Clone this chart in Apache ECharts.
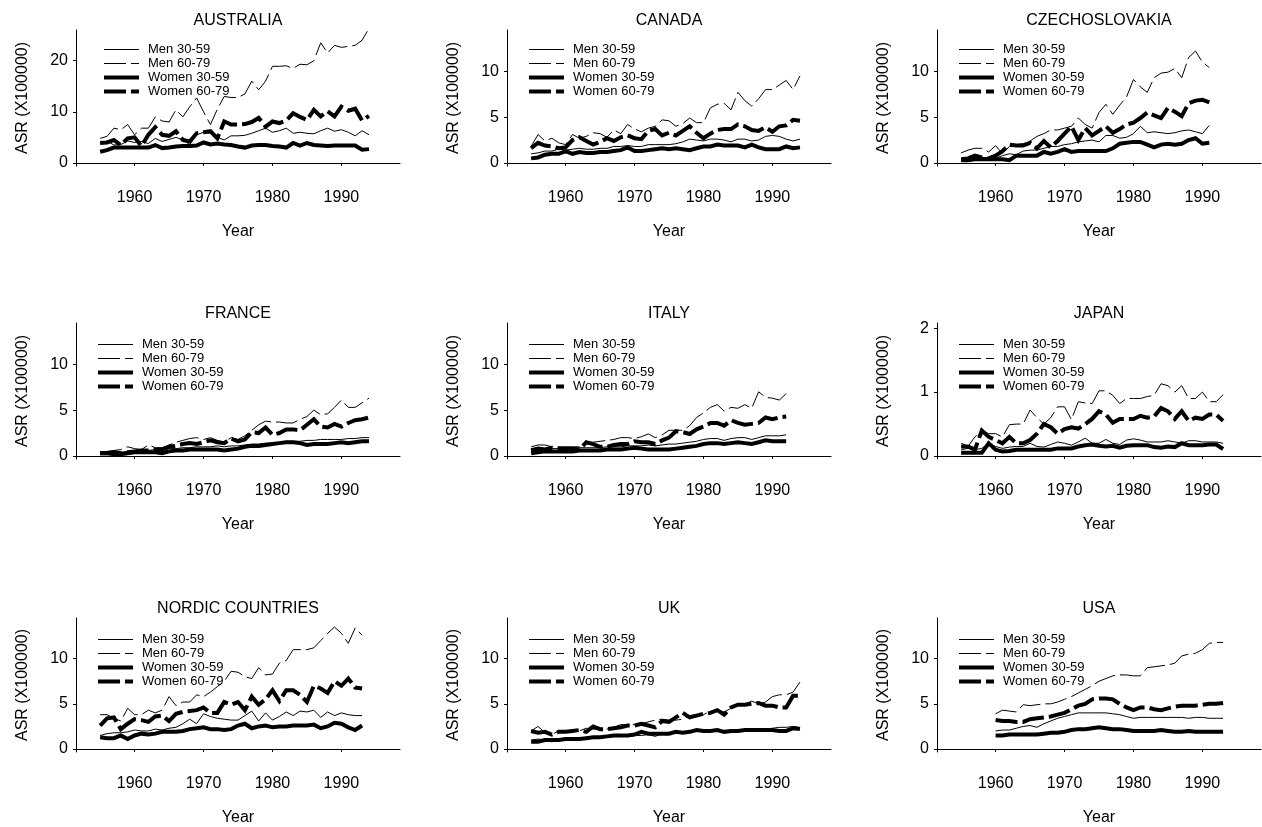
<!DOCTYPE html>
<html>
<head>
<meta charset="utf-8">
<script src="https://cdn.jsdelivr.net/npm/echarts@6/dist/echarts.min.js"></script>
<style>
  html, body { margin: 0; padding: 0; background: #fff; }
  #chart { width: 1262px; height: 827px; }
</style>
</head>
<body>
<div id="chart"></div>
<script>
// ---------- data ----------
const seriesNames = ['Men 30-59', 'Men 60-79', 'Women 30-59', 'Women 60-79'];
const countries = ['AUSTRALIA', 'CANADA', 'CZECHOSLOVAKIA', 'FRANCE', 'ITALY', 'JAPAN', 'NORDIC COUNTRIES', 'UK', 'USA'];
const startYears = [1955, 1955, 1955, 1955, 1955, 1955, 1955, 1955, 1960];
const yearTicks = [1960, 1970, 1980, 1990];
const yTicksAustralia = [0, 10, 20];
const yTicksStandard = [0, 5, 10];
const yTicksJapan = [0, 1, 2];

const australiaMen3059 = [3.8,4.3,3.5,3.6,4.3, 4.0,4.2,3.8,4.8,4.2, 4.6,5.0,4.5,3.6,5.5, 6.0,5.8,5.0,4.5,5.3, 5.3,5.4,5.8,6.3,6.8, 6.0,6.3,6.8,5.8,6.0, 5.8,5.7,6.3,6.8,6.2, 6.5,6.0,5.3,6.3,5.5];
const australiaMen6079 = [4.8,5.2,6.8,6.5,7.5, 5.5,6.8,6.8,9.0,8.2, 8.0,10.4,9.0,11.0,12.7, 10.0,7.5,10.5,13.0,12.8, 12.8,13.5,16.0,14.3,16.0, 18.9,18.9,19.0,18.5,19.3, 19.2,20.0,23.5,21.5,23.0, 22.6,22.8,23.0,24.0,26.3];
const australiaWomen3059 = [2.2,2.5,3.0,3.0,3.0, 3.0,3.0,3.0,3.5,2.9, 3.0,3.2,3.3,3.3,3.4, 4.0,3.6,3.8,3.6,3.5, 3.2,3.0,3.4,3.5,3.5, 3.3,3.2,3.0,3.9,3.4, 3.9,3.5,3.4,3.3,3.4, 3.4,3.4,3.4,2.6,2.7];
const australiaWomen6079 = [3.9,4.0,4.5,3.5,4.8, 5.0,3.3,5.5,7.0,5.5, 5.3,6.2,4.5,4.2,5.8, 6.0,6.2,4.8,8.1,7.5, 7.5,7.6,8.0,8.8,7.1, 8.1,7.8,8.3,9.7,9.0, 8.4,10.4,9.1,10.1,9.1, 11.0,10.2,10.6,8.3,9.2];

const canadaMen3059 = [1.0,1.1,1.3,1.3,1.5, 1.4,1.5,1.6,1.5,1.5, 1.6,1.6,1.8,1.8,1.9, 1.8,1.8,2.0,2.0,2.0, 2.0,2.1,2.3,2.6,2.5, 2.4,2.6,2.6,2.5,2.3, 2.6,2.6,2.4,2.5,2.9, 3.0,2.9,2.6,2.4,2.6];
const canadaMen6079 = [1.8,3.1,2.4,2.7,2.2, 2.0,3.1,2.7,2.9,3.3, 3.2,2.8,3.6,3.2,4.2, 3.7,3.4,3.8,4.0,4.7, 4.6,4.0,4.3,4.9,4.4, 4.4,6.0,6.4,6.5,5.8, 7.7,6.8,6.2,7.0,8.0, 8.0,8.5,9.0,8.0,9.5];
const canadaWomen3059 = [0.5,0.6,0.9,1.0,1.0, 1.3,1.0,1.2,1.1,1.1, 1.2,1.2,1.3,1.4,1.7, 1.3,1.3,1.4,1.5,1.6, 1.5,1.6,1.5,1.4,1.6, 1.8,1.8,2.0,1.9,1.9, 1.9,1.7,2.0,1.7,1.5, 1.5,1.5,1.8,1.6,1.7];
const canadaWomen6079 = [1.6,2.2,1.9,1.8,1.6, 1.7,2.5,2.8,2.4,2.0, 2.3,2.7,2.4,2.8,3.0, 2.7,2.6,3.5,3.7,3.0, 3.3,3.0,3.5,4.0,3.3, 2.7,3.2,3.6,3.7,3.7, 4.2,4.0,3.6,3.5,3.9, 3.4,4.0,4.1,4.7,4.6];

const czechMen3059 = [0.4,0.5,0.5,0.6,0.6, 0.5,0.8,1.0,0.9,1.3, 1.4,1.4,1.6,1.8,1.8, 2.0,2.1,2.3,2.4,2.5, 2.3,3.0,3.0,2.7,2.8, 3.2,4.0,3.3,3.4,3.3, 3.2,3.3,3.5,3.6,3.4, 3.2,4.1];
const czechMen6079 = [1.1,1.4,1.6,1.6,1.2, 1.9,1.0,1.8,2.0,2.1, 2.4,2.9,3.2,3.6,3.6, 3.8,4.0,4.9,4.2,3.8, 5.5,6.4,5.3,6.3,7.2, 9.1,8.3,7.7,9.3,9.8, 9.9,10.3,9.3,11.5,12.2, 11.0,10.4];
const czechWomen3059 = [0.3,0.3,0.4,0.4,0.4, 0.4,0.4,0.3,0.8,0.8, 0.8,0.8,1.2,1.0,1.2, 1.5,1.2,1.3,1.3,1.3, 1.3,1.3,1.6,2.1,2.2, 2.3,2.3,2.0,1.7,2.0, 2.1,2.0,2.1,2.5,2.7, 2.1,2.2];
const czechWomen6079 = [0.4,0.5,0.8,0.6,0.5, 0.8,1.3,2.0,1.9,1.9, 2.2,1.6,2.4,1.7,2.4, 3.2,4.0,2.5,3.8,3.0, 3.5,4.0,3.3,3.7,4.2, 4.4,4.9,5.5,5.2,4.9, 6.0,5.6,5.1,6.5,6.8, 6.9,6.6];

const franceMen3059 = [0.3,0.3,0.4,0.4,0.5, 0.5,0.6,0.6,0.7,0.7, 0.8,0.8,0.9,0.9,1.0, 1.0,1.0,1.1,1.0,1.1, 1.1,1.2,1.3,1.3,1.4, 1.4,1.5,1.6,1.6,1.6, 1.7,1.7,1.8,1.8,1.8, 1.8,1.9,1.9,2.0,2.0];
const franceMen6079 = [0.4,0.5,0.6,0.7,1.0, 0.8,0.7,1.2,0.9,0.9, 1.2,1.5,1.7,1.9,2.0, 1.8,2.0,1.7,1.5,2.0, 1.8,2.2,2.8,3.4,3.8, 3.7,3.7,3.6,3.6,4.0, 4.3,5.0,4.5,4.6,5.3, 6.1,5.3,5.3,5.8,6.3];
const franceWomen3059 = [0.3,0.3,0.2,0.2,0.3, 0.4,0.4,0.4,0.4,0.3, 0.5,0.6,0.6,0.7,0.7, 0.7,0.7,0.7,0.6,0.7, 0.8,1.0,1.1,1.1,1.2, 1.3,1.4,1.5,1.5,1.4, 1.2,1.3,1.3,1.3,1.4, 1.5,1.4,1.5,1.6,1.6];
const franceWomen6079 = [0.3,0.3,0.4,0.3,0.4, 0.5,0.6,0.6,0.7,0.7, 1.0,1.1,1.3,1.4,1.3, 1.5,1.7,1.5,1.4,1.9, 1.6,1.8,2.6,2.5,3.1, 2.3,2.5,2.9,2.9,2.8, 3.4,4.0,3.2,3.1,3.5, 3.2,3.6,3.9,4.0,4.2];

const italyMen3059 = [0.8,0.9,0.8,0.8,0.8, 0.8,0.8,0.9,0.9,0.9, 0.9,1.0,1.0,1.0,1.1, 1.1,1.1,1.2,1.1,1.2, 1.3,1.3,1.4,1.5,1.6, 1.8,1.9,1.9,1.7,1.9, 2.0,2.0,1.8,2.0,2.2, 2.2,2.2,2.3];
const italyMen6079 = [1.0,1.2,1.2,1.0,1.0, 1.0,1.0,1.0,1.5,1.5, 1.6,1.7,1.8,2.0,2.0, 1.9,2.1,2.4,2.0,2.3, 2.8,2.8,2.8,3.3,4.2, 4.7,5.3,5.6,4.9,5.3, 5.2,5.6,5.2,7.0,6.4, 6.3,6.1,6.8];
const italyWomen3059 = [0.3,0.4,0.5,0.5,0.5, 0.5,0.5,0.6,0.6,0.6, 0.6,0.7,0.7,0.7,0.8, 0.9,0.8,0.7,0.7,0.7, 0.7,0.8,0.9,1.0,1.1, 1.3,1.4,1.4,1.3,1.4, 1.5,1.4,1.3,1.5,1.7, 1.6,1.6,1.6];
const italyWomen6079 = [0.6,0.8,0.7,0.9,0.8, 0.8,0.8,0.7,1.5,1.3, 1.0,1.0,1.2,1.3,1.3, 1.6,1.5,1.5,1.3,1.7, 2.0,2.7,2.6,2.4,2.9, 3.2,3.6,3.6,3.3,3.9, 3.6,3.4,3.5,3.6,4.2, 4.0,4.2,4.3];

const japanMen3059 = [0.10,0.12,0.10,0.12,0.20, 0.15,0.12,0.14,0.15,0.15, 0.20,0.15,0.14,0.18,0.22, 0.20,0.17,0.22,0.28,0.20, 0.20,0.26,0.20,0.18,0.25, 0.27,0.25,0.22,0.22,0.22, 0.24,0.22,0.20,0.24,0.24, 0.22,0.22,0.22,0.20];
const japanMen6079 = [0.20,0.15,0.30,0.40,0.35, 0.35,0.30,0.49,0.50,0.50, 0.72,0.60,0.50,0.60,0.77, 0.77,0.57,0.85,0.83,0.82, 1.02,1.02,0.95,0.82,0.90, 0.90,0.90,0.93,0.95,1.13, 1.10,1.00,1.10,0.90,0.90, 1.00,0.85,0.85,0.96];
const japanWomen3059 = [0.05,0.05,0.05,0.05,0.20, 0.10,0.07,0.08,0.10,0.10, 0.10,0.10,0.10,0.10,0.12, 0.12,0.12,0.15,0.17,0.18, 0.16,0.15,0.16,0.13,0.16, 0.17,0.17,0.17,0.14,0.13, 0.15,0.14,0.20,0.17,0.17, 0.17,0.18,0.18,0.11];
const japanWomen6079 = [0.15,0.15,0.10,0.40,0.30, 0.25,0.20,0.30,0.20,0.20, 0.25,0.35,0.50,0.45,0.35, 0.42,0.45,0.43,0.50,0.58, 0.70,0.65,0.52,0.58,0.58, 0.58,0.63,0.60,0.62,0.75, 0.70,0.58,0.70,0.55,0.60, 0.58,0.65,0.65,0.55];

const nordicMen3059 = [1.5,1.7,1.8,1.8,1.9, 2.1,2.0,2.0,2.2,2.1, 2.3,2.4,2.8,3.3,2.8, 3.9,3.6,3.4,3.3,3.2, 3.2,3.7,4.2,3.1,4.0, 3.2,3.6,4.1,3.7,4.2, 4.1,4.3,3.5,4.1,3.7, 4.0,3.8,3.7,3.7];
const nordicMen6079 = [3.8,3.8,3.4,3.1,4.5, 3.8,3.8,4.3,4.0,4.3, 5.8,4.8,5.2,5.2,6.0, 5.8,6.3,6.9,7.5,8.6, 8.5,8.0,7.8,9.0,8.2, 8.3,9.5,9.8,11.0,11.0, 11.0,11.2,12.0,12.8,13.5, 12.8,11.7,13.4,12.6];
const nordicWomen3059 = [1.3,1.2,1.2,1.5,1.1, 1.5,1.7,1.6,1.7,1.9, 1.9,1.9,2.0,2.2,2.3, 2.4,2.2,2.2,2.1,2.2, 2.6,2.8,2.3,2.5,2.6, 2.4,2.5,2.5,2.6,2.6, 2.6,2.7,2.3,2.5,2.9, 2.8,2.4,2.1,2.6];
const nordicWomen6079 = [2.6,3.4,3.5,2.2,2.8, 3.3,3.2,3.0,3.6,3.7, 3.1,3.9,4.1,4.2,4.3, 4.6,4.0,4.0,5.2,4.9, 5.2,4.3,5.8,4.9,5.5, 6.5,5.3,6.5,6.5,6.0, 5.2,7.0,6.7,6.2,7.5, 7.0,7.8,6.8,6.7];

const ukMen3059 = [1.0,1.1,1.0,0.8,1.0, 1.1,1.2,1.1,1.2,1.3, 1.3,1.4,1.5,1.4,1.4, 1.5,1.5,1.6,1.4,1.7, 1.7,1.8,1.8,1.8,2.0, 2.0,2.1,2.1,2.0,2.1, 2.1,2.1,2.1,2.2,2.2, 2.3,2.4,2.4,2.5,2.4];
const ukMen6079 = [2.0,2.5,1.8,1.6,2.0, 2.0,2.0,2.0,2.3,2.2, 2.2,2.2,2.4,2.7,2.7, 2.7,2.8,3.0,3.2,3.3, 3.2,3.2,3.3,3.7,3.8, 3.8,4.2,4.3,4.1,4.5, 4.9,5.0,5.3,5.0,5.2, 5.8,6.0,6.0,6.3,7.4];
const ukWomen3059 = [0.8,0.8,1.0,1.0,1.0, 1.1,1.1,1.1,1.2,1.3, 1.3,1.4,1.5,1.5,1.5, 1.6,1.9,1.7,1.7,1.7, 1.7,1.9,1.8,1.9,2.1, 2.0,2.0,2.1,1.9,2.0, 2.0,2.1,2.1,2.1,2.1, 2.1,2.0,2.0,2.3,2.2];
const ukWomen6079 = [2.0,1.8,1.9,1.6,1.9, 1.9,2.0,2.1,1.9,2.5, 2.2,2.2,2.3,2.4,2.6, 2.6,2.8,2.6,2.4,3.1, 3.0,3.5,4.0,3.5,3.7, 3.9,4.0,4.3,3.8,4.6, 4.9,4.9,5.0,5.1,4.8, 4.8,4.6,4.6,5.9,5.9];

const usaMen3059 = [2.0,2.1,2.1,2.3,2.5, 2.6,2.4,2.8,3.1,3.4, 3.6,3.8,4.0,4.0,4.0, 4.0,4.0,3.9,3.8,3.6, 3.4,3.5,3.5,3.5,3.5, 3.5,3.5,3.5,3.4,3.5, 3.5,3.4,3.4,3.4];
const usaMen6079 = [3.9,4.3,4.2,4.1,4.9, 4.8,4.9,5.0,5.0,5.2, 5.5,5.8,6.2,6.6,7.0, 7.5,7.8,8.1,8.2,8.2, 8.1,8.1,9.0,9.1,9.2, 9.3,9.5,10.3,10.5,10.6, 11.0,11.7,11.8,11.8];
const usaWomen3059 = [1.5,1.5,1.6,1.6,1.6, 1.6,1.6,1.7,1.8,1.8, 1.9,2.1,2.2,2.2,2.3, 2.4,2.3,2.2,2.2,2.1, 2.0,2.0,2.0,2.0,2.1, 2.0,1.9,1.9,2.0,1.9, 1.9,1.9,1.9,1.9];
const usaWomen6079 = [3.2,3.1,3.1,3.0,3.0, 3.3,3.4,3.5,3.6,3.8, 4.0,4.4,4.8,5.0,5.5, 5.6,5.6,5.5,5.0,4.6, 4.3,4.6,4.6,4.4,4.3, 4.5,4.7,4.8,4.8,4.8, 4.9,5.0,5.0,5.1];

const panelValues = [
  [australiaMen3059, australiaMen6079, australiaWomen3059, australiaWomen6079],
  [canadaMen3059, canadaMen6079, canadaWomen3059, canadaWomen6079],
  [czechMen3059, czechMen6079, czechWomen3059, czechWomen6079],
  [franceMen3059, franceMen6079, franceWomen3059, franceWomen6079],
  [italyMen3059, italyMen6079, italyWomen3059, italyWomen6079],
  [japanMen3059, japanMen6079, japanWomen3059, japanWomen6079],
  [nordicMen3059, nordicMen6079, nordicWomen3059, nordicWomen6079],
  [ukMen3059, ukMen6079, ukWomen3059, ukWomen6079],
  [usaMen3059, usaMen6079, usaWomen3059, usaWomen6079]
];
const panelYTicks = [yTicksAustralia, yTicksStandard, yTicksStandard, yTicksStandard, yTicksStandard, yTicksJapan, yTicksStandard, yTicksStandard, yTicksStandard];

// ---------- layout & style ----------
const FONT = "'Liberation Sans', Arial, sans-serif";
const colLeft = [76, 507, 937];
const rowTop = [30, 323, 618];
const gridW = 324, gridH = 136;
function yRange(ticks) {
  const top = ticks[ticks.length - 1];
  if (top === 20) return [-0.6, 26.0];
  if (top === 2) return [-0.046, 2.08];
  return [-0.33, 14.5];
}
const lineStyles = [
  { color: '#000', width: 1, type: 'solid' },
  { color: '#000', width: 1, type: [22, 5] },
  { color: '#000', width: 4, type: 'solid' },
  { color: '#000', width: 4, type: [22, 5] }
];

const grids = [], xAxes = [], yAxes = [], series = [], titles = [], legends = [];
countries.forEach((name, i) => {
  const col = i % 3, row = Math.floor(i / 3);
  const left = colLeft[col], top = rowTop[row];
  grids.push({ left: left, top: top, width: gridW, height: gridH, containLabel: false });
  xAxes.push({
    gridIndex: i, type: 'value', min: 1951.5, max: 1998.5, offset: 4,
    axisLine: { show: true, lineStyle: { color: '#000', width: 1 } },
    axisTick: { show: true, customValues: yearTicks, length: 3, lineStyle: { color: '#000' } },
    axisLabel: { customValues: yearTicks, formatter: v => String(v), margin: 20, fontSize: 16, color: '#000', fontFamily: FONT },
    splitLine: { show: false },
    name: 'Year', nameLocation: 'middle', nameGap: 54,
    nameTextStyle: { fontSize: 16, color: '#000', fontFamily: FONT }
  });
  const yt = panelYTicks[i];
  const yr = yRange(yt);
  yAxes.push({
    gridIndex: i, type: 'value', min: yr[0], max: yr[1],
    axisLine: { show: true, lineStyle: { color: '#000', width: 1 } },
    axisTick: { show: true, customValues: yt, length: 3, lineStyle: { color: '#000' } },
    axisLabel: { customValues: yt, formatter: v => String(v), margin: 8, fontSize: 16, color: '#000', fontFamily: FONT },
    splitLine: { show: false },
    name: 'ASR (X100000)', nameLocation: 'middle', nameGap: 45, nameRotate: 90,
    nameTextStyle: { fontSize: 16, color: '#000', fontFamily: FONT }
  });
  titles.push({
    text: name, left: left + gridW / 2, top: top - 17, textAlign: 'center', padding: 0,
    textStyle: { fontSize: 16, fontWeight: 'normal', color: '#000', fontFamily: FONT }
  });
  legends.push({
    orient: 'vertical', left: left + (i === 0 ? 26 : 20), top: top + (row === 0 ? 13 : 15),
    itemWidth: 35, itemHeight: 10, itemGap: 1, padding: 0, selectedMode: false,
    itemStyle: { opacity: 0 },
    textStyle: { fontSize: 13, color: '#000', fontFamily: FONT, padding: [0, 0, 0, 4] },
    data: seriesNames.map((n, s) => ({ name: n, lineStyle: lineStyles[s], itemStyle: { opacity: 0 } }))
  });
  panelValues[i].forEach((vals, s) => {
    series.push({
      type: 'line', name: seriesNames[s], xAxisIndex: i, yAxisIndex: i,
      data: vals.map((v, k) => [startYears[i] + k, v]),
      symbol: 'none', showSymbol: false, silent: true,
      lineStyle: Object.assign({ cap: 'butt', join: 'miter' }, lineStyles[s]),
      itemStyle: { color: '#000' }
    });
  });
});

const chart = echarts.init(document.getElementById('chart'), null, { renderer: 'canvas' });
chart.setOption({
  backgroundColor: '#fff',
  animation: false,
  title: titles,
  legend: legends,
  grid: grids,
  xAxis: xAxes,
  yAxis: yAxes,
  series: series
});
</script>
</body>
</html>
